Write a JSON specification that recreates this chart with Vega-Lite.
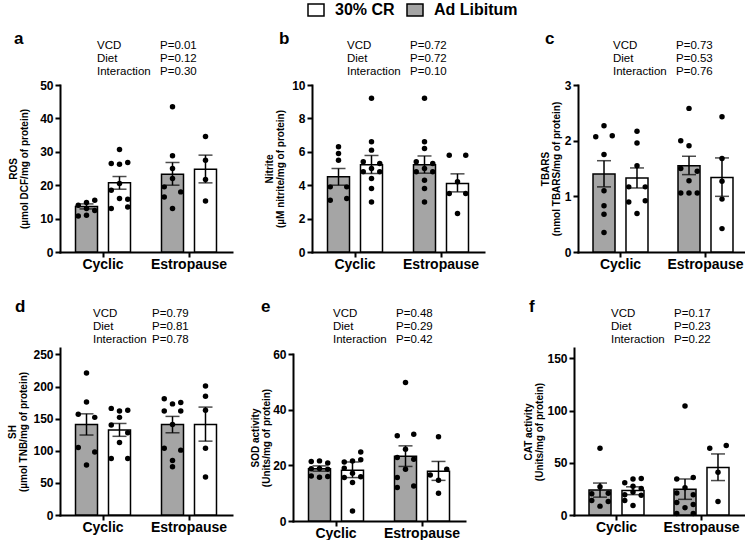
{
"$schema": "https://vega.github.io/schema/vega-lite/v6.json",
"padding": {"left": 7, "top": 1, "right": 0, "bottom": 0},
"background": "white",
"config": {
  "font": "Liberation Sans",
  "view": {"stroke": null},
  "axis": {"domainColor": "black", "domainWidth": 2, "domainCap": "square", "tickColor": "black", "tickWidth": 2, "tickSize": 5, "labelColor": "black", "labelFont": "Liberation Sans", "labelFontWeight": "bold", "titleColor": "black", "titleFont": "Liberation Sans", "titleFontWeight": "bold", "grid": false, "labelOverlap": false},
  "axisX": {"labelFontSize": 14, "labelAngle": 0, "labelPadding": 0},
  "axisY": {"labelFontSize": 12, "labelPadding": 2, "titleFontSize": 10, "titleLineHeight": 11},
  "title": {"anchor": "start", "frame": "group", "fontSize": 17, "fontWeight": "bold", "color": "black", "offset": 0, "baseline": "middle", "font": "Liberation Sans"},
  "legend": {"orient": "none", "legendX": 247, "legendY": -38, "direction": "horizontal", "symbolType": "M-1,-0.75H1V0.75H-1Z", "symbolSize": 256, "symbolStrokeColor": "black", "symbolStrokeWidth": 1.5, "labelFontSize": 16, "labelFontWeight": "bold", "labelColor": "black", "labelFont": "Liberation Sans", "labelOffset": 10, "columnPadding": 9, "padding": 0}
},
"datasets": {
  "stats": [
    {"panel": "a", "term": "VCD", "p": "P=0.01"}, {"panel": "a", "term": "Diet", "p": "P=0.12"}, {"panel": "a", "term": "Interaction", "p": "P=0.30"},
    {"panel": "b", "term": "VCD", "p": "P=0.72"}, {"panel": "b", "term": "Diet", "p": "P=0.72"}, {"panel": "b", "term": "Interaction", "p": "P=0.10"},
    {"panel": "c", "term": "VCD", "p": "P=0.73"}, {"panel": "c", "term": "Diet", "p": "P=0.53"}, {"panel": "c", "term": "Interaction", "p": "P=0.76"},
    {"panel": "d", "term": "VCD", "p": "P=0.79"}, {"panel": "d", "term": "Diet", "p": "P=0.81"}, {"panel": "d", "term": "Interaction", "p": "P=0.78"},
    {"panel": "e", "term": "VCD", "p": "P=0.48"}, {"panel": "e", "term": "Diet", "p": "P=0.29"}, {"panel": "e", "term": "Interaction", "p": "P=0.42"},
    {"panel": "f", "term": "VCD", "p": "P=0.17"}, {"panel": "f", "term": "Diet", "p": "P=0.23"}, {"panel": "f", "term": "Interaction", "p": "P=0.22"}
  ],
  "bars": [
    {"panel": "a", "group": "Cyclic", "diet": "Ad Libitum", "mean": 13.6, "lo": 12.9, "hi": 14.4},
    {"panel": "a", "group": "Cyclic", "diet": "30% CR", "mean": 20.7, "lo": 18.8, "hi": 22.6},
    {"panel": "a", "group": "Estropause", "diet": "Ad Libitum", "mean": 23.3, "lo": 20.0, "hi": 26.8},
    {"panel": "a", "group": "Estropause", "diet": "30% CR", "mean": 24.8, "lo": 20.7, "hi": 29.0},
    {"panel": "b", "group": "Cyclic", "diet": "Ad Libitum", "mean": 4.5, "lo": 4.0, "hi": 5.0},
    {"panel": "b", "group": "Cyclic", "diet": "30% CR", "mean": 5.22, "lo": 4.7, "hi": 5.78},
    {"panel": "b", "group": "Estropause", "diet": "Ad Libitum", "mean": 5.22, "lo": 4.72, "hi": 5.75},
    {"panel": "b", "group": "Estropause", "diet": "30% CR", "mean": 4.1, "lo": 3.6, "hi": 4.68},
    {"panel": "c", "group": "Cyclic", "diet": "Ad Libitum", "mean": 1.4, "lo": 1.17, "hi": 1.64},
    {"panel": "c", "group": "Cyclic", "diet": "30% CR", "mean": 1.33, "lo": 1.15, "hi": 1.51},
    {"panel": "c", "group": "Estropause", "diet": "Ad Libitum", "mean": 1.55, "lo": 1.39, "hi": 1.72},
    {"panel": "c", "group": "Estropause", "diet": "30% CR", "mean": 1.34, "lo": 1.0, "hi": 1.69},
    {"panel": "d", "group": "Cyclic", "diet": "Ad Libitum", "mean": 141, "lo": 124.5, "hi": 157.5},
    {"panel": "d", "group": "Cyclic", "diet": "30% CR", "mean": 132.5, "lo": 122.5, "hi": 142.5},
    {"panel": "d", "group": "Estropause", "diet": "Ad Libitum", "mean": 141, "lo": 128, "hi": 153.5},
    {"panel": "d", "group": "Estropause", "diet": "30% CR", "mean": 141, "lo": 115, "hi": 168},
    {"panel": "e", "group": "Cyclic", "diet": "Ad Libitum", "mean": 18.8, "lo": 17.9, "hi": 19.8},
    {"panel": "e", "group": "Cyclic", "diet": "30% CR", "mean": 18.2, "lo": 15.6, "hi": 21.2},
    {"panel": "e", "group": "Estropause", "diet": "Ad Libitum", "mean": 23.3, "lo": 19.6, "hi": 27.0},
    {"panel": "e", "group": "Estropause", "diet": "30% CR", "mean": 17.9, "lo": 14.6, "hi": 21.4},
    {"panel": "f", "group": "Cyclic", "diet": "Ad Libitum", "mean": 24.0, "lo": 17.1, "hi": 30.6},
    {"panel": "f", "group": "Cyclic", "diet": "30% CR", "mean": 23.4, "lo": 19.5, "hi": 27.0},
    {"panel": "f", "group": "Estropause", "diet": "Ad Libitum", "mean": 24.6, "lo": 15.0, "hi": 34.5},
    {"panel": "f", "group": "Estropause", "diet": "30% CR", "mean": 45.6, "lo": 33.0, "hi": 58.5}
  ],
  "points": [
    {"panel": "a", "group": "Cyclic", "diet": "Ad Libitum", "value": 14.0, "col": "L"},
    {"panel": "a", "group": "Cyclic", "diet": "Ad Libitum", "value": 14.8, "col": "C"},
    {"panel": "a", "group": "Cyclic", "diet": "Ad Libitum", "value": 15.5, "col": "R"},
    {"panel": "a", "group": "Cyclic", "diet": "Ad Libitum", "value": 10.8, "col": "L"},
    {"panel": "a", "group": "Cyclic", "diet": "Ad Libitum", "value": 13.0, "col": "C"},
    {"panel": "a", "group": "Cyclic", "diet": "Ad Libitum", "value": 12.4, "col": "R"},
    {"panel": "a", "group": "Cyclic", "diet": "Ad Libitum", "value": 11.0, "col": "C"},
    {"panel": "a", "group": "Cyclic", "diet": "30% CR", "value": 30.7, "col": "C"},
    {"panel": "a", "group": "Cyclic", "diet": "30% CR", "value": 26.5, "col": "L"},
    {"panel": "a", "group": "Cyclic", "diet": "30% CR", "value": 26.3, "col": "C"},
    {"panel": "a", "group": "Cyclic", "diet": "30% CR", "value": 26.8, "col": "R"},
    {"panel": "a", "group": "Cyclic", "diet": "30% CR", "value": 20.5, "col": "C"},
    {"panel": "a", "group": "Cyclic", "diet": "30% CR", "value": 18.5, "col": "L"},
    {"panel": "a", "group": "Cyclic", "diet": "30% CR", "value": 16.0, "col": "C"},
    {"panel": "a", "group": "Cyclic", "diet": "30% CR", "value": 13.0, "col": "L"},
    {"panel": "a", "group": "Cyclic", "diet": "30% CR", "value": 13.5, "col": "R"},
    {"panel": "a", "group": "Cyclic", "diet": "30% CR", "value": 15.8, "col": "R"},
    {"panel": "a", "group": "Estropause", "diet": "Ad Libitum", "value": 43.5, "col": "C"},
    {"panel": "a", "group": "Estropause", "diet": "Ad Libitum", "value": 28.8, "col": "C"},
    {"panel": "a", "group": "Estropause", "diet": "Ad Libitum", "value": 25.0, "col": "C"},
    {"panel": "a", "group": "Estropause", "diet": "Ad Libitum", "value": 22.0, "col": "C"},
    {"panel": "a", "group": "Estropause", "diet": "Ad Libitum", "value": 19.5, "col": "L"},
    {"panel": "a", "group": "Estropause", "diet": "Ad Libitum", "value": 18.0, "col": "R"},
    {"panel": "a", "group": "Estropause", "diet": "Ad Libitum", "value": 16.5, "col": "L"},
    {"panel": "a", "group": "Estropause", "diet": "Ad Libitum", "value": 13.0, "col": "C"},
    {"panel": "a", "group": "Estropause", "diet": "30% CR", "value": 34.6, "col": "C"},
    {"panel": "a", "group": "Estropause", "diet": "30% CR", "value": 27.5, "col": "C"},
    {"panel": "a", "group": "Estropause", "diet": "30% CR", "value": 21.7, "col": "C"},
    {"panel": "a", "group": "Estropause", "diet": "30% CR", "value": 15.3, "col": "C"},
    {"panel": "b", "group": "Cyclic", "diet": "Ad Libitum", "value": 6.3, "col": "C"},
    {"panel": "b", "group": "Cyclic", "diet": "Ad Libitum", "value": 5.9, "col": "C"},
    {"panel": "b", "group": "Cyclic", "diet": "Ad Libitum", "value": 5.5, "col": "C"},
    {"panel": "b", "group": "Cyclic", "diet": "Ad Libitum", "value": 3.9, "col": "L"},
    {"panel": "b", "group": "Cyclic", "diet": "Ad Libitum", "value": 3.9, "col": "R"},
    {"panel": "b", "group": "Cyclic", "diet": "Ad Libitum", "value": 3.1, "col": "L"},
    {"panel": "b", "group": "Cyclic", "diet": "Ad Libitum", "value": 3.2, "col": "R"},
    {"panel": "b", "group": "Cyclic", "diet": "30% CR", "value": 9.2, "col": "C"},
    {"panel": "b", "group": "Cyclic", "diet": "30% CR", "value": 6.6, "col": "C"},
    {"panel": "b", "group": "Cyclic", "diet": "30% CR", "value": 6.1, "col": "C"},
    {"panel": "b", "group": "Cyclic", "diet": "30% CR", "value": 5.4, "col": "L"},
    {"panel": "b", "group": "Cyclic", "diet": "30% CR", "value": 5.3, "col": "R"},
    {"panel": "b", "group": "Cyclic", "diet": "30% CR", "value": 5.0, "col": "C"},
    {"panel": "b", "group": "Cyclic", "diet": "30% CR", "value": 4.8, "col": "L"},
    {"panel": "b", "group": "Cyclic", "diet": "30% CR", "value": 4.8, "col": "R"},
    {"panel": "b", "group": "Cyclic", "diet": "30% CR", "value": 4.4, "col": "C"},
    {"panel": "b", "group": "Cyclic", "diet": "30% CR", "value": 3.8, "col": "C"},
    {"panel": "b", "group": "Cyclic", "diet": "30% CR", "value": 3.0, "col": "C"},
    {"panel": "b", "group": "Estropause", "diet": "Ad Libitum", "value": 9.2, "col": "C"},
    {"panel": "b", "group": "Estropause", "diet": "Ad Libitum", "value": 6.6, "col": "C"},
    {"panel": "b", "group": "Estropause", "diet": "Ad Libitum", "value": 6.2, "col": "C"},
    {"panel": "b", "group": "Estropause", "diet": "Ad Libitum", "value": 5.4, "col": "L"},
    {"panel": "b", "group": "Estropause", "diet": "Ad Libitum", "value": 5.3, "col": "R"},
    {"panel": "b", "group": "Estropause", "diet": "Ad Libitum", "value": 5.0, "col": "C"},
    {"panel": "b", "group": "Estropause", "diet": "Ad Libitum", "value": 4.8, "col": "L"},
    {"panel": "b", "group": "Estropause", "diet": "Ad Libitum", "value": 4.8, "col": "R"},
    {"panel": "b", "group": "Estropause", "diet": "Ad Libitum", "value": 4.3, "col": "C"},
    {"panel": "b", "group": "Estropause", "diet": "Ad Libitum", "value": 3.8, "col": "C"},
    {"panel": "b", "group": "Estropause", "diet": "Ad Libitum", "value": 3.0, "col": "C"},
    {"panel": "b", "group": "Estropause", "diet": "30% CR", "value": 5.8, "col": "L"},
    {"panel": "b", "group": "Estropause", "diet": "30% CR", "value": 5.8, "col": "R"},
    {"panel": "b", "group": "Estropause", "diet": "30% CR", "value": 4.2, "col": "C"},
    {"panel": "b", "group": "Estropause", "diet": "30% CR", "value": 3.5, "col": "L"},
    {"panel": "b", "group": "Estropause", "diet": "30% CR", "value": 3.5, "col": "R"},
    {"panel": "b", "group": "Estropause", "diet": "30% CR", "value": 2.3, "col": "C"},
    {"panel": "c", "group": "Cyclic", "diet": "Ad Libitum", "value": 2.27, "col": "C"},
    {"panel": "c", "group": "Cyclic", "diet": "Ad Libitum", "value": 2.07, "col": "L"},
    {"panel": "c", "group": "Cyclic", "diet": "Ad Libitum", "value": 2.09, "col": "R"},
    {"panel": "c", "group": "Cyclic", "diet": "Ad Libitum", "value": 1.75, "col": "C"},
    {"panel": "c", "group": "Cyclic", "diet": "Ad Libitum", "value": 1.1, "col": "C"},
    {"panel": "c", "group": "Cyclic", "diet": "Ad Libitum", "value": 0.83, "col": "C"},
    {"panel": "c", "group": "Cyclic", "diet": "Ad Libitum", "value": 0.68, "col": "C"},
    {"panel": "c", "group": "Cyclic", "diet": "Ad Libitum", "value": 0.35, "col": "C"},
    {"panel": "c", "group": "Cyclic", "diet": "30% CR", "value": 2.17, "col": "C"},
    {"panel": "c", "group": "Cyclic", "diet": "30% CR", "value": 1.96, "col": "C"},
    {"panel": "c", "group": "Cyclic", "diet": "30% CR", "value": 1.55, "col": "C"},
    {"panel": "c", "group": "Cyclic", "diet": "30% CR", "value": 1.17, "col": "L"},
    {"panel": "c", "group": "Cyclic", "diet": "30% CR", "value": 1.17, "col": "R"},
    {"panel": "c", "group": "Cyclic", "diet": "30% CR", "value": 0.9, "col": "L"},
    {"panel": "c", "group": "Cyclic", "diet": "30% CR", "value": 0.92, "col": "R"},
    {"panel": "c", "group": "Cyclic", "diet": "30% CR", "value": 0.69, "col": "C"},
    {"panel": "c", "group": "Estropause", "diet": "Ad Libitum", "value": 2.58, "col": "C"},
    {"panel": "c", "group": "Estropause", "diet": "Ad Libitum", "value": 2.0, "col": "L"},
    {"panel": "c", "group": "Estropause", "diet": "Ad Libitum", "value": 1.91, "col": "C"},
    {"panel": "c", "group": "Estropause", "diet": "Ad Libitum", "value": 1.45, "col": "R"},
    {"panel": "c", "group": "Estropause", "diet": "Ad Libitum", "value": 1.5, "col": "L"},
    {"panel": "c", "group": "Estropause", "diet": "Ad Libitum", "value": 1.28, "col": "C"},
    {"panel": "c", "group": "Estropause", "diet": "Ad Libitum", "value": 1.06, "col": "L"},
    {"panel": "c", "group": "Estropause", "diet": "Ad Libitum", "value": 1.06, "col": "C"},
    {"panel": "c", "group": "Estropause", "diet": "Ad Libitum", "value": 1.06, "col": "R"},
    {"panel": "c", "group": "Estropause", "diet": "30% CR", "value": 2.43, "col": "C"},
    {"panel": "c", "group": "Estropause", "diet": "30% CR", "value": 1.68, "col": "C"},
    {"panel": "c", "group": "Estropause", "diet": "30% CR", "value": 1.27, "col": "C"},
    {"panel": "c", "group": "Estropause", "diet": "30% CR", "value": 0.95, "col": "C"},
    {"panel": "c", "group": "Estropause", "diet": "30% CR", "value": 0.42, "col": "C"},
    {"panel": "d", "group": "Cyclic", "diet": "Ad Libitum", "value": 221, "col": "C"},
    {"panel": "d", "group": "Cyclic", "diet": "Ad Libitum", "value": 176, "col": "C"},
    {"panel": "d", "group": "Cyclic", "diet": "Ad Libitum", "value": 157, "col": "L"},
    {"panel": "d", "group": "Cyclic", "diet": "Ad Libitum", "value": 152, "col": "R"},
    {"panel": "d", "group": "Cyclic", "diet": "Ad Libitum", "value": 105, "col": "L"},
    {"panel": "d", "group": "Cyclic", "diet": "Ad Libitum", "value": 98, "col": "R"},
    {"panel": "d", "group": "Cyclic", "diet": "Ad Libitum", "value": 78, "col": "C"},
    {"panel": "d", "group": "Cyclic", "diet": "30% CR", "value": 166, "col": "L"},
    {"panel": "d", "group": "Cyclic", "diet": "30% CR", "value": 162, "col": "C"},
    {"panel": "d", "group": "Cyclic", "diet": "30% CR", "value": 163, "col": "R"},
    {"panel": "d", "group": "Cyclic", "diet": "30% CR", "value": 152, "col": "C"},
    {"panel": "d", "group": "Cyclic", "diet": "30% CR", "value": 140, "col": "L"},
    {"panel": "d", "group": "Cyclic", "diet": "30% CR", "value": 128, "col": "R"},
    {"panel": "d", "group": "Cyclic", "diet": "30% CR", "value": 113, "col": "C"},
    {"panel": "d", "group": "Cyclic", "diet": "30% CR", "value": 88, "col": "L"},
    {"panel": "d", "group": "Cyclic", "diet": "30% CR", "value": 88, "col": "R"},
    {"panel": "d", "group": "Estropause", "diet": "Ad Libitum", "value": 181, "col": "L"},
    {"panel": "d", "group": "Estropause", "diet": "Ad Libitum", "value": 173, "col": "C"},
    {"panel": "d", "group": "Estropause", "diet": "Ad Libitum", "value": 175, "col": "R"},
    {"panel": "d", "group": "Estropause", "diet": "Ad Libitum", "value": 162, "col": "L"},
    {"panel": "d", "group": "Estropause", "diet": "Ad Libitum", "value": 162, "col": "R"},
    {"panel": "d", "group": "Estropause", "diet": "Ad Libitum", "value": 141, "col": "C"},
    {"panel": "d", "group": "Estropause", "diet": "Ad Libitum", "value": 104, "col": "L"},
    {"panel": "d", "group": "Estropause", "diet": "Ad Libitum", "value": 101, "col": "R"},
    {"panel": "d", "group": "Estropause", "diet": "Ad Libitum", "value": 85, "col": "C"},
    {"panel": "d", "group": "Estropause", "diet": "Ad Libitum", "value": 75, "col": "C"},
    {"panel": "d", "group": "Estropause", "diet": "30% CR", "value": 201, "col": "C"},
    {"panel": "d", "group": "Estropause", "diet": "30% CR", "value": 185, "col": "C"},
    {"panel": "d", "group": "Estropause", "diet": "30% CR", "value": 163, "col": "C"},
    {"panel": "d", "group": "Estropause", "diet": "30% CR", "value": 104, "col": "C"},
    {"panel": "d", "group": "Estropause", "diet": "30% CR", "value": 59, "col": "C"},
    {"panel": "e", "group": "Cyclic", "diet": "Ad Libitum", "value": 21.4, "col": "L"},
    {"panel": "e", "group": "Cyclic", "diet": "Ad Libitum", "value": 21.6, "col": "C"},
    {"panel": "e", "group": "Cyclic", "diet": "Ad Libitum", "value": 20.8, "col": "R"},
    {"panel": "e", "group": "Cyclic", "diet": "Ad Libitum", "value": 18.8, "col": "L"},
    {"panel": "e", "group": "Cyclic", "diet": "Ad Libitum", "value": 18.6, "col": "R"},
    {"panel": "e", "group": "Cyclic", "diet": "Ad Libitum", "value": 18.9, "col": "C"},
    {"panel": "e", "group": "Cyclic", "diet": "Ad Libitum", "value": 16.2, "col": "L"},
    {"panel": "e", "group": "Cyclic", "diet": "Ad Libitum", "value": 15.7, "col": "C"},
    {"panel": "e", "group": "Cyclic", "diet": "Ad Libitum", "value": 16.0, "col": "R"},
    {"panel": "e", "group": "Cyclic", "diet": "30% CR", "value": 24.8, "col": "R"},
    {"panel": "e", "group": "Cyclic", "diet": "30% CR", "value": 21.2, "col": "L"},
    {"panel": "e", "group": "Cyclic", "diet": "30% CR", "value": 21.6, "col": "C"},
    {"panel": "e", "group": "Cyclic", "diet": "30% CR", "value": 22.0, "col": "R"},
    {"panel": "e", "group": "Cyclic", "diet": "30% CR", "value": 19.0, "col": "L"},
    {"panel": "e", "group": "Cyclic", "diet": "30% CR", "value": 17.2, "col": "C"},
    {"panel": "e", "group": "Cyclic", "diet": "30% CR", "value": 15.6, "col": "L"},
    {"panel": "e", "group": "Cyclic", "diet": "30% CR", "value": 15.9, "col": "R"},
    {"panel": "e", "group": "Cyclic", "diet": "30% CR", "value": 13.8, "col": "C"},
    {"panel": "e", "group": "Cyclic", "diet": "30% CR", "value": 3.6, "col": "C"},
    {"panel": "e", "group": "Estropause", "diet": "Ad Libitum", "value": 49.8, "col": "C"},
    {"panel": "e", "group": "Estropause", "diet": "Ad Libitum", "value": 30.6, "col": "L"},
    {"panel": "e", "group": "Estropause", "diet": "Ad Libitum", "value": 31.2, "col": "R"},
    {"panel": "e", "group": "Estropause", "diet": "Ad Libitum", "value": 25.8, "col": "C"},
    {"panel": "e", "group": "Estropause", "diet": "Ad Libitum", "value": 22.8, "col": "L"},
    {"panel": "e", "group": "Estropause", "diet": "Ad Libitum", "value": 22.2, "col": "R"},
    {"panel": "e", "group": "Estropause", "diet": "Ad Libitum", "value": 18.6, "col": "C"},
    {"panel": "e", "group": "Estropause", "diet": "Ad Libitum", "value": 15.6, "col": "L"},
    {"panel": "e", "group": "Estropause", "diet": "Ad Libitum", "value": 12.0, "col": "L"},
    {"panel": "e", "group": "Estropause", "diet": "Ad Libitum", "value": 12.6, "col": "R"},
    {"panel": "e", "group": "Estropause", "diet": "30% CR", "value": 30.3, "col": "C"},
    {"panel": "e", "group": "Estropause", "diet": "30% CR", "value": 18.6, "col": "R"},
    {"panel": "e", "group": "Estropause", "diet": "30% CR", "value": 16.5, "col": "L"},
    {"panel": "e", "group": "Estropause", "diet": "30% CR", "value": 14.6, "col": "C"},
    {"panel": "e", "group": "Estropause", "diet": "30% CR", "value": 10.0, "col": "C"},
    {"panel": "f", "group": "Cyclic", "diet": "Ad Libitum", "value": 64, "col": "C"},
    {"panel": "f", "group": "Cyclic", "diet": "Ad Libitum", "value": 27, "col": "C"},
    {"panel": "f", "group": "Cyclic", "diet": "Ad Libitum", "value": 20.3, "col": "L"},
    {"panel": "f", "group": "Cyclic", "diet": "Ad Libitum", "value": 20.8, "col": "R"},
    {"panel": "f", "group": "Cyclic", "diet": "Ad Libitum", "value": 14, "col": "L"},
    {"panel": "f", "group": "Cyclic", "diet": "Ad Libitum", "value": 13, "col": "R"},
    {"panel": "f", "group": "Cyclic", "diet": "Ad Libitum", "value": 8.5, "col": "C"},
    {"panel": "f", "group": "Cyclic", "diet": "30% CR", "value": 31, "col": "L"},
    {"panel": "f", "group": "Cyclic", "diet": "30% CR", "value": 34.5, "col": "C"},
    {"panel": "f", "group": "Cyclic", "diet": "30% CR", "value": 35, "col": "R"},
    {"panel": "f", "group": "Cyclic", "diet": "30% CR", "value": 27.5, "col": "C"},
    {"panel": "f", "group": "Cyclic", "diet": "30% CR", "value": 25.5, "col": "R"},
    {"panel": "f", "group": "Cyclic", "diet": "30% CR", "value": 19.5, "col": "L"},
    {"panel": "f", "group": "Cyclic", "diet": "30% CR", "value": 19, "col": "R"},
    {"panel": "f", "group": "Cyclic", "diet": "30% CR", "value": 22, "col": "C"},
    {"panel": "f", "group": "Cyclic", "diet": "30% CR", "value": 14, "col": "L"},
    {"panel": "f", "group": "Cyclic", "diet": "30% CR", "value": 9, "col": "C"},
    {"panel": "f", "group": "Estropause", "diet": "Ad Libitum", "value": 104.4, "col": "C"},
    {"panel": "f", "group": "Estropause", "diet": "Ad Libitum", "value": 36, "col": "R"},
    {"panel": "f", "group": "Estropause", "diet": "Ad Libitum", "value": 34.5, "col": "L"},
    {"panel": "f", "group": "Estropause", "diet": "Ad Libitum", "value": 26, "col": "C"},
    {"panel": "f", "group": "Estropause", "diet": "Ad Libitum", "value": 21, "col": "L"},
    {"panel": "f", "group": "Estropause", "diet": "Ad Libitum", "value": 19.5, "col": "R"},
    {"panel": "f", "group": "Estropause", "diet": "Ad Libitum", "value": 12, "col": "L"},
    {"panel": "f", "group": "Estropause", "diet": "Ad Libitum", "value": 10, "col": "R"},
    {"panel": "f", "group": "Estropause", "diet": "Ad Libitum", "value": 7, "col": "C"},
    {"panel": "f", "group": "Estropause", "diet": "Ad Libitum", "value": 1.5, "col": "L"},
    {"panel": "f", "group": "Estropause", "diet": "Ad Libitum", "value": 1.5, "col": "R"},
    {"panel": "f", "group": "Estropause", "diet": "30% CR", "value": 64, "col": "L"},
    {"panel": "f", "group": "Estropause", "diet": "30% CR", "value": 66.5, "col": "R"},
    {"panel": "f", "group": "Estropause", "diet": "30% CR", "value": 41, "col": "C"},
    {"panel": "f", "group": "Estropause", "diet": "30% CR", "value": 13, "col": "C"}
  ]
},
"spacing": 27,
"vconcat": [
 {"columns": 3, "align": "none", "spacing": 32, "concat": [
  {"spacing": 1, "vconcat": [
    {"width": 172, "height": 39, "title": {"text": "a", "dx": -46, "dy": 13},
     "data": {"name": "stats"}, "transform": [{"filter": "datum.panel == 'a'"}],
     "encoding": {"y": {"field": "term", "type": "nominal", "scale": {"type": "point", "domain": ["VCD", "Diet", "Interaction"], "padding": 0.5}, "axis": null}},
     "layer": [
      {"mark": {"type": "text", "align": "left", "baseline": "middle", "fontSize": 11.5, "color": "black"}, "encoding": {"x": {"datum": "term", "type": "nominal", "scale": {"type": "point", "domain": ["term", "p"], "range": [37, 100], "padding": 0}, "axis": null}, "text": {"field": "term"}}},
      {"mark": {"type": "text", "align": "left", "baseline": "middle", "fontSize": 11.5, "color": "black"}, "encoding": {"x": {"datum": "p", "type": "nominal", "axis": null}, "text": {"field": "p"}}}
     ]},
    {"width": 172, "height": 167,
     "encoding": {"x": {"field": "group", "type": "nominal", "title": null, "scale": {"domain": ["Cyclic", "Estropause"], "paddingInner": 0, "paddingOuter": 0}}},
     "layer": [
      {"data": {"name": "bars"}, "transform": [{"filter": "datum.panel == 'a'"}], "mark": {"type": "bar", "stroke": "black", "strokeWidth": 1.5},
       "encoding": {"xOffset": {"field": "diet", "type": "nominal", "scale": {"domain": ["Ad Libitum", "30% CR"], "paddingInner": 0.333, "paddingOuter": 0.47}},
        "y": {"field": "mean", "type": "quantitative", "scale": {"domain": [0, 50]}, "axis": {"values": [0, 10, 20, 30, 40, 50], "tickCount": 20, "format": "d", "labelOverlap": false, "title": ["ROS", "(µmol DCF/mg of protein)"], "titlePadding": 10}},
        "fill": {"field": "diet", "type": "nominal", "title": null, "scale": {"domain": ["30% CR", "Ad Libitum"], "range": ["white", "#a5a5a5"]}}}},
      {"data": {"name": "bars"}, "transform": [{"filter": "datum.panel == 'a'"}], "mark": {"type": "rule", "color": "black", "strokeWidth": 1.5},
       "encoding": {"xOffset": {"field": "diet", "type": "nominal", "scale": {"domain": ["Ad Libitum", "30% CR"], "paddingInner": 0.333, "paddingOuter": 0.47}}, "y": {"field": "lo", "type": "quantitative"}, "y2": {"field": "hi"}}},
      {"data": {"name": "bars"}, "transform": [{"filter": "datum.panel == 'a'"}], "mark": {"type": "tick", "color": "black", "thickness": 1.5, "size": 14, "orient": "horizontal"},
       "encoding": {"xOffset": {"field": "diet", "type": "nominal", "scale": {"domain": ["Ad Libitum", "30% CR"], "paddingInner": 0.333, "paddingOuter": 0.47}}, "y": {"field": "lo", "type": "quantitative"}}},
      {"data": {"name": "bars"}, "transform": [{"filter": "datum.panel == 'a'"}], "mark": {"type": "tick", "color": "black", "thickness": 1.5, "size": 14, "orient": "horizontal"},
       "encoding": {"xOffset": {"field": "diet", "type": "nominal", "scale": {"domain": ["Ad Libitum", "30% CR"], "paddingInner": 0.333, "paddingOuter": 0.47}}, "y": {"field": "hi", "type": "quantitative"}}},
      {"data": {"name": "points"}, "transform": [{"filter": "datum.panel == 'a' && datum.diet == 'Ad Libitum'"}], "mark": {"type": "circle", "size": 30, "color": "black", "opacity": 1},
       "encoding": {"xOffset": {"field": "col", "type": "nominal", "scale": {"type": "point", "domain": ["L", "C", "R"], "range": [18.25, 34.75], "padding": 0}}, "y": {"field": "value", "type": "quantitative"}}},
      {"data": {"name": "points"}, "transform": [{"filter": "datum.panel == 'a' && datum.diet == '30% CR'"}], "mark": {"type": "circle", "size": 30, "color": "black", "opacity": 1},
       "encoding": {"xOffset": {"field": "col", "type": "nominal", "scale": {"type": "point", "domain": ["L", "C", "R"], "range": [51.25, 67.75], "padding": 0}}, "y": {"field": "value", "type": "quantitative"}}}
     ],
     "resolve": {"scale": {"xOffset": "independent"}}}
  ]},
  {"spacing": 1, "vconcat": [
    {"width": 196, "height": 39, "title": {"text": "b", "dx": -33, "dy": 13},
     "data": {"name": "stats"}, "transform": [{"filter": "datum.panel == 'b'"}],
     "encoding": {"y": {"field": "term", "type": "nominal", "scale": {"type": "point", "domain": ["VCD", "Diet", "Interaction"], "padding": 0.5}, "axis": null}},
     "layer": [
      {"mark": {"type": "text", "align": "left", "baseline": "middle", "fontSize": 11.5, "color": "black"}, "encoding": {"x": {"datum": "term", "type": "nominal", "scale": {"type": "point", "domain": ["term", "p"], "range": [35, 98], "padding": 0}, "axis": null}, "text": {"field": "term"}}},
      {"mark": {"type": "text", "align": "left", "baseline": "middle", "fontSize": 11.5, "color": "black"}, "encoding": {"x": {"datum": "p", "type": "nominal", "axis": null}, "text": {"field": "p"}}}
     ]},
    {"width": 172, "height": 167,
     "encoding": {"x": {"field": "group", "type": "nominal", "title": null, "scale": {"domain": ["Cyclic", "Estropause"], "paddingInner": 0, "paddingOuter": 0}}},
     "layer": [
      {"data": {"name": "bars"}, "transform": [{"filter": "datum.panel == 'b'"}], "mark": {"type": "bar", "stroke": "black", "strokeWidth": 1.5},
       "encoding": {"xOffset": {"field": "diet", "type": "nominal", "scale": {"domain": ["Ad Libitum", "30% CR"], "paddingInner": 0.333, "paddingOuter": 0.47}},
        "y": {"field": "mean", "type": "quantitative", "scale": {"domain": [0, 10]}, "axis": {"values": [0, 2, 4, 6, 8, 10], "tickCount": 20, "format": "d", "labelOverlap": false, "title": ["Nitrite", "(µM nitrite/mg of protein)"], "titlePadding": 6}},
        "fill": {"field": "diet", "type": "nominal", "title": null, "scale": {"domain": ["30% CR", "Ad Libitum"], "range": ["white", "#a5a5a5"]}}}},
      {"data": {"name": "bars"}, "transform": [{"filter": "datum.panel == 'b'"}], "mark": {"type": "rule", "color": "black", "strokeWidth": 1.5},
       "encoding": {"xOffset": {"field": "diet", "type": "nominal", "scale": {"domain": ["Ad Libitum", "30% CR"], "paddingInner": 0.333, "paddingOuter": 0.47}}, "y": {"field": "lo", "type": "quantitative"}, "y2": {"field": "hi"}}},
      {"data": {"name": "bars"}, "transform": [{"filter": "datum.panel == 'b'"}], "mark": {"type": "tick", "color": "black", "thickness": 1.5, "size": 14, "orient": "horizontal"},
       "encoding": {"xOffset": {"field": "diet", "type": "nominal", "scale": {"domain": ["Ad Libitum", "30% CR"], "paddingInner": 0.333, "paddingOuter": 0.47}}, "y": {"field": "lo", "type": "quantitative"}}},
      {"data": {"name": "bars"}, "transform": [{"filter": "datum.panel == 'b'"}], "mark": {"type": "tick", "color": "black", "thickness": 1.5, "size": 14, "orient": "horizontal"},
       "encoding": {"xOffset": {"field": "diet", "type": "nominal", "scale": {"domain": ["Ad Libitum", "30% CR"], "paddingInner": 0.333, "paddingOuter": 0.47}}, "y": {"field": "hi", "type": "quantitative"}}},
      {"data": {"name": "points"}, "transform": [{"filter": "datum.panel == 'b' && datum.diet == 'Ad Libitum'"}], "mark": {"type": "circle", "size": 30, "color": "black", "opacity": 1},
       "encoding": {"xOffset": {"field": "col", "type": "nominal", "scale": {"type": "point", "domain": ["L", "C", "R"], "range": [18.25, 34.75], "padding": 0}}, "y": {"field": "value", "type": "quantitative"}}},
      {"data": {"name": "points"}, "transform": [{"filter": "datum.panel == 'b' && datum.diet == '30% CR'"}], "mark": {"type": "circle", "size": 30, "color": "black", "opacity": 1},
       "encoding": {"xOffset": {"field": "col", "type": "nominal", "scale": {"type": "point", "domain": ["L", "C", "R"], "range": [51.25, 67.75], "padding": 0}}, "y": {"field": "value", "type": "quantitative"}}}
     ],
     "resolve": {"scale": {"xOffset": "independent"}}}
  ]},
  {"spacing": 1, "vconcat": [
    {"width": 170, "height": 39, "title": {"text": "c", "dx": -33, "dy": 13},
     "data": {"name": "stats"}, "transform": [{"filter": "datum.panel == 'c'"}],
     "encoding": {"y": {"field": "term", "type": "nominal", "scale": {"type": "point", "domain": ["VCD", "Diet", "Interaction"], "padding": 0.5}, "axis": null}},
     "layer": [
      {"mark": {"type": "text", "align": "left", "baseline": "middle", "fontSize": 11.5, "color": "black"}, "encoding": {"x": {"datum": "term", "type": "nominal", "scale": {"type": "point", "domain": ["term", "p"], "range": [35, 98], "padding": 0}, "axis": null}, "text": {"field": "term"}}},
      {"mark": {"type": "text", "align": "left", "baseline": "middle", "fontSize": 11.5, "color": "black"}, "encoding": {"x": {"datum": "p", "type": "nominal", "axis": null}, "text": {"field": "p"}}}
     ]},
    {"width": 170, "height": 167,
     "encoding": {"x": {"field": "group", "type": "nominal", "title": null, "scale": {"domain": ["Cyclic", "Estropause"], "paddingInner": 0, "paddingOuter": 0}}},
     "layer": [
      {"data": {"name": "bars"}, "transform": [{"filter": "datum.panel == 'c'"}], "mark": {"type": "bar", "stroke": "black", "strokeWidth": 1.5},
       "encoding": {"xOffset": {"field": "diet", "type": "nominal", "scale": {"domain": ["Ad Libitum", "30% CR"], "paddingInner": 0.333, "paddingOuter": 0.455}},
        "y": {"field": "mean", "type": "quantitative", "scale": {"domain": [0, 3]}, "axis": {"values": [0, 1, 2, 3], "tickCount": 20, "format": "d", "labelOverlap": false, "title": ["TBARS", "(nmol TBARS/mg of protein)"], "titlePadding": 3}},
        "fill": {"field": "diet", "type": "nominal", "title": null, "scale": {"domain": ["30% CR", "Ad Libitum"], "range": ["white", "#a5a5a5"]}}}},
      {"data": {"name": "bars"}, "transform": [{"filter": "datum.panel == 'c'"}], "mark": {"type": "rule", "color": "black", "strokeWidth": 1.5},
       "encoding": {"xOffset": {"field": "diet", "type": "nominal", "scale": {"domain": ["Ad Libitum", "30% CR"], "paddingInner": 0.333, "paddingOuter": 0.455}}, "y": {"field": "lo", "type": "quantitative"}, "y2": {"field": "hi"}}},
      {"data": {"name": "bars"}, "transform": [{"filter": "datum.panel == 'c'"}], "mark": {"type": "tick", "color": "black", "thickness": 1.5, "size": 14, "orient": "horizontal"},
       "encoding": {"xOffset": {"field": "diet", "type": "nominal", "scale": {"domain": ["Ad Libitum", "30% CR"], "paddingInner": 0.333, "paddingOuter": 0.455}}, "y": {"field": "lo", "type": "quantitative"}}},
      {"data": {"name": "bars"}, "transform": [{"filter": "datum.panel == 'c'"}], "mark": {"type": "tick", "color": "black", "thickness": 1.5, "size": 14, "orient": "horizontal"},
       "encoding": {"xOffset": {"field": "diet", "type": "nominal", "scale": {"domain": ["Ad Libitum", "30% CR"], "paddingInner": 0.333, "paddingOuter": 0.455}}, "y": {"field": "hi", "type": "quantitative"}}},
      {"data": {"name": "points"}, "transform": [{"filter": "datum.panel == 'c' && datum.diet == 'Ad Libitum'"}], "mark": {"type": "circle", "size": 30, "color": "black", "opacity": 1},
       "encoding": {"xOffset": {"field": "col", "type": "nominal", "scale": {"type": "point", "domain": ["L", "C", "R"], "range": [17.75, 34.25], "padding": 0}}, "y": {"field": "value", "type": "quantitative"}}},
      {"data": {"name": "points"}, "transform": [{"filter": "datum.panel == 'c' && datum.diet == '30% CR'"}], "mark": {"type": "circle", "size": 30, "color": "black", "opacity": 1},
       "encoding": {"xOffset": {"field": "col", "type": "nominal", "scale": {"type": "point", "domain": ["L", "C", "R"], "range": [50.75, 67.25], "padding": 0}}, "y": {"field": "value", "type": "quantitative"}}}
     ],
     "resolve": {"scale": {"xOffset": "independent"}}}
  ]}
 ]},
 {"columns": 3, "align": "none", "spacing": 18, "concat": [
  {"spacing": 2, "vconcat": [
    {"width": 172, "height": 39, "title": {"text": "d", "dx": -45, "dy": 13},
     "data": {"name": "stats"}, "transform": [{"filter": "datum.panel == 'd'"}],
     "encoding": {"y": {"field": "term", "type": "nominal", "scale": {"type": "point", "domain": ["VCD", "Diet", "Interaction"], "padding": 0.5}, "axis": null}},
     "layer": [
      {"mark": {"type": "text", "align": "left", "baseline": "middle", "fontSize": 11.5, "color": "black"}, "encoding": {"x": {"datum": "term", "type": "nominal", "scale": {"type": "point", "domain": ["term", "p"], "range": [33, 92], "padding": 0}, "axis": null}, "text": {"field": "term"}}},
      {"mark": {"type": "text", "align": "left", "baseline": "middle", "fontSize": 11.5, "color": "black"}, "encoding": {"x": {"datum": "p", "type": "nominal", "axis": null}, "text": {"field": "p"}}}
     ]},
    {"width": 172, "height": 167,
     "encoding": {"x": {"field": "group", "type": "nominal", "title": null, "scale": {"domain": ["Cyclic", "Estropause"], "paddingInner": 0, "paddingOuter": 0}}},
     "layer": [
      {"data": {"name": "bars"}, "transform": [{"filter": "datum.panel == 'd'"}], "mark": {"type": "bar", "stroke": "black", "strokeWidth": 1.5},
       "encoding": {"xOffset": {"field": "diet", "type": "nominal", "scale": {"domain": ["Ad Libitum", "30% CR"], "paddingInner": 0.333, "paddingOuter": 0.47}},
        "y": {"field": "mean", "type": "quantitative", "scale": {"domain": [0, 250]}, "axis": {"values": [0, 50, 100, 150, 200, 250], "tickCount": 20, "format": "d", "labelOverlap": false, "title": ["SH", "(µmol TNB/mg of protein)"], "titlePadding": 4}},
        "fill": {"field": "diet", "type": "nominal", "title": null, "scale": {"domain": ["30% CR", "Ad Libitum"], "range": ["white", "#a5a5a5"]}}}},
      {"data": {"name": "bars"}, "transform": [{"filter": "datum.panel == 'd'"}], "mark": {"type": "rule", "color": "black", "strokeWidth": 1.5},
       "encoding": {"xOffset": {"field": "diet", "type": "nominal", "scale": {"domain": ["Ad Libitum", "30% CR"], "paddingInner": 0.333, "paddingOuter": 0.47}}, "y": {"field": "lo", "type": "quantitative"}, "y2": {"field": "hi"}}},
      {"data": {"name": "bars"}, "transform": [{"filter": "datum.panel == 'd'"}], "mark": {"type": "tick", "color": "black", "thickness": 1.5, "size": 14, "orient": "horizontal"},
       "encoding": {"xOffset": {"field": "diet", "type": "nominal", "scale": {"domain": ["Ad Libitum", "30% CR"], "paddingInner": 0.333, "paddingOuter": 0.47}}, "y": {"field": "lo", "type": "quantitative"}}},
      {"data": {"name": "bars"}, "transform": [{"filter": "datum.panel == 'd'"}], "mark": {"type": "tick", "color": "black", "thickness": 1.5, "size": 14, "orient": "horizontal"},
       "encoding": {"xOffset": {"field": "diet", "type": "nominal", "scale": {"domain": ["Ad Libitum", "30% CR"], "paddingInner": 0.333, "paddingOuter": 0.47}}, "y": {"field": "hi", "type": "quantitative"}}},
      {"data": {"name": "points"}, "transform": [{"filter": "datum.panel == 'd' && datum.diet == 'Ad Libitum'"}], "mark": {"type": "circle", "size": 30, "color": "black", "opacity": 1},
       "encoding": {"xOffset": {"field": "col", "type": "nominal", "scale": {"type": "point", "domain": ["L", "C", "R"], "range": [18.25, 34.75], "padding": 0}}, "y": {"field": "value", "type": "quantitative"}}},
      {"data": {"name": "points"}, "transform": [{"filter": "datum.panel == 'd' && datum.diet == '30% CR'"}], "mark": {"type": "circle", "size": 30, "color": "black", "opacity": 1},
       "encoding": {"xOffset": {"field": "col", "type": "nominal", "scale": {"type": "point", "domain": ["L", "C", "R"], "range": [51.25, 67.75], "padding": 0}}, "y": {"field": "value", "type": "quantitative"}}}
     ],
     "resolve": {"scale": {"xOffset": "independent"}}}
  ]},
  {"spacing": 2, "vconcat": [
    {"width": 212, "height": 39, "title": {"text": "e", "dx": -32, "dy": 13},
     "data": {"name": "stats"}, "transform": [{"filter": "datum.panel == 'e'"}],
     "encoding": {"y": {"field": "term", "type": "nominal", "scale": {"type": "point", "domain": ["VCD", "Diet", "Interaction"], "padding": 0.5}, "axis": null}},
     "layer": [
      {"mark": {"type": "text", "align": "left", "baseline": "middle", "fontSize": 11.5, "color": "black"}, "encoding": {"x": {"datum": "term", "type": "nominal", "scale": {"type": "point", "domain": ["term", "p"], "range": [40, 103], "padding": 0}, "axis": null}, "text": {"field": "term"}}},
      {"mark": {"type": "text", "align": "left", "baseline": "middle", "fontSize": 11.5, "color": "black"}, "encoding": {"x": {"datum": "p", "type": "nominal", "axis": null}, "text": {"field": "p"}}}
     ]},
    {"width": 172, "height": 167,
     "encoding": {"x": {"field": "group", "type": "nominal", "title": null, "scale": {"domain": ["Cyclic", "Estropause"], "paddingInner": 0, "paddingOuter": 0}}},
     "layer": [
      {"data": {"name": "bars"}, "transform": [{"filter": "datum.panel == 'e'"}], "mark": {"type": "bar", "stroke": "black", "strokeWidth": 1.5},
       "encoding": {"xOffset": {"field": "diet", "type": "nominal", "scale": {"domain": ["Ad Libitum", "30% CR"], "paddingInner": 0.333, "paddingOuter": 0.47}},
        "y": {"field": "mean", "type": "quantitative", "scale": {"domain": [0, 60]}, "axis": {"values": [0, 20, 40, 60], "tickCount": 20, "format": "d", "labelOverlap": false, "title": ["SOD activity", "(Units/mg of protein)"], "titlePadding": 1}},
        "fill": {"field": "diet", "type": "nominal", "title": null, "scale": {"domain": ["30% CR", "Ad Libitum"], "range": ["white", "#a5a5a5"]}}}},
      {"data": {"name": "bars"}, "transform": [{"filter": "datum.panel == 'e'"}], "mark": {"type": "rule", "color": "black", "strokeWidth": 1.5},
       "encoding": {"xOffset": {"field": "diet", "type": "nominal", "scale": {"domain": ["Ad Libitum", "30% CR"], "paddingInner": 0.333, "paddingOuter": 0.47}}, "y": {"field": "lo", "type": "quantitative"}, "y2": {"field": "hi"}}},
      {"data": {"name": "bars"}, "transform": [{"filter": "datum.panel == 'e'"}], "mark": {"type": "tick", "color": "black", "thickness": 1.5, "size": 14, "orient": "horizontal"},
       "encoding": {"xOffset": {"field": "diet", "type": "nominal", "scale": {"domain": ["Ad Libitum", "30% CR"], "paddingInner": 0.333, "paddingOuter": 0.47}}, "y": {"field": "lo", "type": "quantitative"}}},
      {"data": {"name": "bars"}, "transform": [{"filter": "datum.panel == 'e'"}], "mark": {"type": "tick", "color": "black", "thickness": 1.5, "size": 14, "orient": "horizontal"},
       "encoding": {"xOffset": {"field": "diet", "type": "nominal", "scale": {"domain": ["Ad Libitum", "30% CR"], "paddingInner": 0.333, "paddingOuter": 0.47}}, "y": {"field": "hi", "type": "quantitative"}}},
      {"data": {"name": "points"}, "transform": [{"filter": "datum.panel == 'e' && datum.diet == 'Ad Libitum'"}], "mark": {"type": "circle", "size": 30, "color": "black", "opacity": 1},
       "encoding": {"xOffset": {"field": "col", "type": "nominal", "scale": {"type": "point", "domain": ["L", "C", "R"], "range": [18.25, 34.75], "padding": 0}}, "y": {"field": "value", "type": "quantitative"}}},
      {"data": {"name": "points"}, "transform": [{"filter": "datum.panel == 'e' && datum.diet == '30% CR'"}], "mark": {"type": "circle", "size": 30, "color": "black", "opacity": 1},
       "encoding": {"xOffset": {"field": "col", "type": "nominal", "scale": {"type": "point", "domain": ["L", "C", "R"], "range": [51.25, 67.75], "padding": 0}}, "y": {"field": "value", "type": "quantitative"}}}
     ],
     "resolve": {"scale": {"xOffset": "independent"}}}
  ]},
  {"spacing": 2, "vconcat": [
    {"width": 170, "height": 39, "title": {"text": "f", "dx": -45, "dy": 13},
     "data": {"name": "stats"}, "transform": [{"filter": "datum.panel == 'f'"}],
     "encoding": {"y": {"field": "term", "type": "nominal", "scale": {"type": "point", "domain": ["VCD", "Diet", "Interaction"], "padding": 0.5}, "axis": null}},
     "layer": [
      {"mark": {"type": "text", "align": "left", "baseline": "middle", "fontSize": 11.5, "color": "black"}, "encoding": {"x": {"datum": "term", "type": "nominal", "scale": {"type": "point", "domain": ["term", "p"], "range": [37, 100], "padding": 0}, "axis": null}, "text": {"field": "term"}}},
      {"mark": {"type": "text", "align": "left", "baseline": "middle", "fontSize": 11.5, "color": "black"}, "encoding": {"x": {"datum": "p", "type": "nominal", "axis": null}, "text": {"field": "p"}}}
     ]},
    {"width": 170, "height": 167,
     "encoding": {"x": {"field": "group", "type": "nominal", "title": null, "scale": {"domain": ["Cyclic", "Estropause"], "paddingInner": 0, "paddingOuter": 0}}},
     "layer": [
      {"data": {"name": "bars"}, "transform": [{"filter": "datum.panel == 'f'"}], "mark": {"type": "bar", "stroke": "black", "strokeWidth": 1.5},
       "encoding": {"xOffset": {"field": "diet", "type": "nominal", "scale": {"domain": ["Ad Libitum", "30% CR"], "paddingInner": 0.333, "paddingOuter": 0.455}},
        "y": {"field": "mean", "type": "quantitative", "scale": {"domain": [0, 150]}, "axis": {"values": [0, 50, 100, 150], "tickCount": 20, "format": "d", "labelOverlap": false, "title": ["CAT activity", "(Units/mg of protein)"], "titlePadding": 2}},
        "fill": {"field": "diet", "type": "nominal", "title": null, "scale": {"domain": ["30% CR", "Ad Libitum"], "range": ["white", "#a5a5a5"]}}}},
      {"data": {"name": "bars"}, "transform": [{"filter": "datum.panel == 'f'"}], "mark": {"type": "rule", "color": "black", "strokeWidth": 1.5},
       "encoding": {"xOffset": {"field": "diet", "type": "nominal", "scale": {"domain": ["Ad Libitum", "30% CR"], "paddingInner": 0.333, "paddingOuter": 0.455}}, "y": {"field": "lo", "type": "quantitative"}, "y2": {"field": "hi"}}},
      {"data": {"name": "bars"}, "transform": [{"filter": "datum.panel == 'f'"}], "mark": {"type": "tick", "color": "black", "thickness": 1.5, "size": 14, "orient": "horizontal"},
       "encoding": {"xOffset": {"field": "diet", "type": "nominal", "scale": {"domain": ["Ad Libitum", "30% CR"], "paddingInner": 0.333, "paddingOuter": 0.455}}, "y": {"field": "lo", "type": "quantitative"}}},
      {"data": {"name": "bars"}, "transform": [{"filter": "datum.panel == 'f'"}], "mark": {"type": "tick", "color": "black", "thickness": 1.5, "size": 14, "orient": "horizontal"},
       "encoding": {"xOffset": {"field": "diet", "type": "nominal", "scale": {"domain": ["Ad Libitum", "30% CR"], "paddingInner": 0.333, "paddingOuter": 0.455}}, "y": {"field": "hi", "type": "quantitative"}}},
      {"data": {"name": "points"}, "transform": [{"filter": "datum.panel == 'f' && datum.diet == 'Ad Libitum'"}], "mark": {"type": "circle", "size": 30, "color": "black", "opacity": 1},
       "encoding": {"xOffset": {"field": "col", "type": "nominal", "scale": {"type": "point", "domain": ["L", "C", "R"], "range": [17.75, 34.25], "padding": 0}}, "y": {"field": "value", "type": "quantitative"}}},
      {"data": {"name": "points"}, "transform": [{"filter": "datum.panel == 'f' && datum.diet == '30% CR'"}], "mark": {"type": "circle", "size": 30, "color": "black", "opacity": 1},
       "encoding": {"xOffset": {"field": "col", "type": "nominal", "scale": {"type": "point", "domain": ["L", "C", "R"], "range": [50.75, 67.25], "padding": 0}}, "y": {"field": "value", "type": "quantitative"}}}
     ],
     "resolve": {"scale": {"xOffset": "independent"}}}
  ]}
 ]}
]
}
